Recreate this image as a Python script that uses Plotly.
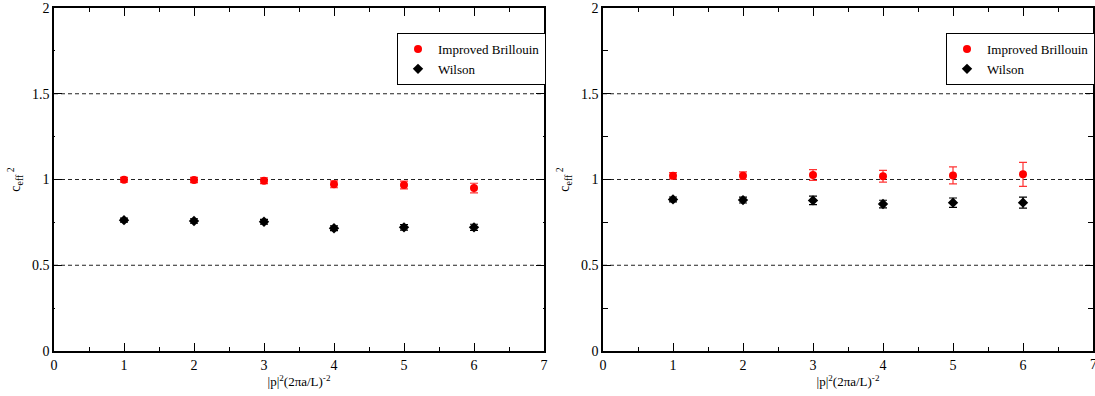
import plotly.graph_objects as go

# ---- data ----
p2 = [1, 2, 3, 4, 5, 6]

left_brillouin = [0.998, 0.997, 0.993, 0.972, 0.968, 0.950]
left_brillouin_err = [0.014, 0.015, 0.017, 0.020, 0.023, 0.028]
left_wilson = [0.763, 0.758, 0.754, 0.716, 0.721, 0.721]
left_wilson_err = [0.012, 0.013, 0.014, 0.014, 0.016, 0.018]

right_brillouin = [1.022, 1.022, 1.026, 1.019, 1.024, 1.030]
right_brillouin_err = [0.018, 0.022, 0.031, 0.034, 0.050, 0.070]
right_wilson = [0.884, 0.880, 0.878, 0.857, 0.865, 0.865]
right_wilson_err = [0.014, 0.017, 0.025, 0.022, 0.027, 0.032]

ref_lines = [0.5, 1.0, 1.5]
x_ticks = [0, 1, 2, 3, 4, 5, 6, 7]
y_ticks = [0, 0.5, 1, 1.5, 2]
y_tick_text = ["0", "0.5", "1", "1.5", "2"]

W, H = 1095, 396
FONT = "Liberation Serif"

fig = go.Figure()

panels = [
    ("x", "y", "legend", left_brillouin, left_brillouin_err, left_wilson, left_wilson_err),
    ("x2", "y2", "legend2", right_brillouin, right_brillouin_err, right_wilson, right_wilson_err),
]

for xa, ya, lg, b, be, w, we in panels:
    fig.add_trace(go.Scatter(
        x=p2, y=b, mode="markers", name="Improved Brillouin",
        xaxis=xa, yaxis=ya, legend=lg,
        marker=dict(symbol="circle", size=8, color="#ff0000"),
        error_y=dict(type="data", array=be, visible=True, thickness=1.2, width=4, color="#ff3333"),
    ))
    fig.add_trace(go.Scatter(
        x=p2, y=w, mode="markers", name="Wilson",
        xaxis=xa, yaxis=ya, legend=lg,
        marker=dict(symbol="diamond", size=8, color="#000000"),
        error_y=dict(type="data", array=we, visible=True, thickness=1.2, width=4, color="#000000"),
    ))
    for yv in ref_lines:
        fig.add_shape(type="line", xref=f"{xa} domain", yref=ya, x0=0, x1=1, y0=yv, y1=yv,
                      line=dict(color="#222222", width=1, dash="4px,3px"), layer="below")

# the last x tick label of the right panel sits at the page edge; plotly would drop it
fig.add_annotation(x=x_ticks[-1], y=0, xref="x2", yref="y2", text=str(x_ticks[-1]),
                   showarrow=False, yanchor="top", yshift=-4, xanchor="center",
                   font=dict(family=FONT, size=14, color="black"))

y_bot = (H - 351) / H
y_top = (H - 8) / H

def xaxis(domain, anchor):
    return dict(
        domain=domain, anchor=anchor, range=[0, 7], automargin=False,
        tickmode="array", tickvals=x_ticks, ticktext=[str(t) for t in x_ticks],
        ticks="inside", ticklen=8, tickwidth=1.2, tickcolor="black",
        minor=dict(dtick=0.5, ticks="inside", ticklen=4, tickwidth=1.2, tickcolor="black"),
        showline=True, linecolor="black", linewidth=1.5, mirror="ticks",
        showgrid=False, zeroline=False,
        tickfont=dict(family=FONT, size=14, color="black"),
        title=dict(text="|p|<sup>2</sup>(2πa/L)<sup>-2</sup>", font=dict(family=FONT, size=13, color="black"), standoff=2),
    )

def yaxis(domain, anchor, minorlen):
    return dict(
        domain=domain, anchor=anchor, range=[0, 2], automargin=False,
        tickmode="array", tickvals=y_ticks, ticktext=y_tick_text,
        ticks="inside", ticklen=8, tickwidth=1.2, tickcolor="black",
        minor=dict(dtick=0.25, ticks="inside", ticklen=minorlen, tickwidth=1.2, tickcolor="black"),
        showline=True, linecolor="black", linewidth=1.5, mirror="ticks",
        showgrid=False, zeroline=False,
        tickfont=dict(family=FONT, size=14, color="black"),
        title=dict(text="c<sub>eff</sub><sup> 2</sup>", font=dict(family=FONT, size=14, color="black"), standoff=8),
    )

legend_style = dict(
    bgcolor="white", bordercolor="black", borderwidth=1,
    font=dict(family=FONT, size=13, color="black"),
    xanchor="left", yanchor="top", tracegroupgap=0, itemwidth=30,
)

fig.update_layout(
    width=W, height=H,
    margin=dict(l=0, r=0, t=0, b=0, autoexpand=False),
    paper_bgcolor="white", plot_bgcolor="white",
    showlegend=True,
    font=dict(family=FONT),
    xaxis=xaxis([54 / W, 544 / W], "y"),
    yaxis=yaxis([y_bot, y_top], "x", 1),
    xaxis2=xaxis([603 / W, 1093 / W], "y2"),
    yaxis2=yaxis([y_bot, y_top], "x2", 5),
    legend=dict(x=397 / W, y=(H - 33) / H, **legend_style),
    legend2=dict(x=946 / W, y=(H - 33) / H, **legend_style),
)

fig.write_html("out.html")
